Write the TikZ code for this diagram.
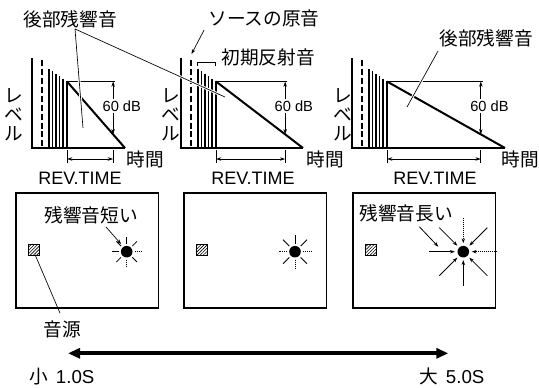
\documentclass[tikz,border=0pt]{standalone}
\usepackage{fontspec}
\setmainfont{Liberation Sans}
\newfontfamily\jp{Noto Sans CJK JP}
\usepackage{tikz}
\usetikzlibrary{arrows.meta,calc,patterns.meta}
\tikzset{
  axisline/.style={line width=0.9pt},
  directline/.style={line width=0.9pt, dash pattern=on 4.5pt off 2.2pt},
  barline/.style={line width=1.4pt},
  decayline/.style={line width=1.5pt},
  thinline/.style={line width=0.5pt},
  dimarrow/.style={line width=0.5pt, {Stealth[length=4pt,width=2.6pt]}-{Stealth[length=4pt,width=2.6pt]}},
  raytip/.style={-{Stealth[length=3.6pt,width=2.6pt]}},
  jplabel/.style={font=\jp\fontsize{14}{14.3}\selectfont, inner sep=0pt},
  enlabel/.style={font=\fontsize{13.5}{16}\selectfont, inner sep=0pt},
  dblabel/.style={font=\fontsize{11}{13}\selectfont, fill=white, inner sep=1.2pt},
  callout/.style={line width=0.5pt, preaction={draw=white, line width=2pt}},
  room/.style={line width=1.4pt},
  srcbox/.style={line width=0.5pt, pattern={Lines[angle=45,distance=1.7pt,line width=0.45pt]}},
  raydash/.style={line width=0.6pt, dash pattern=on 1pt off 0.5pt},
  raysolid/.style={line width=0.6pt},
  bigarrow/.style={line width=3pt, {Triangle[length=9pt,width=7.5pt]}-{Triangle[length=9pt,width=7.5pt]}}
}
% one decay graph: name, axis x, end of decay, REV.TIME x, time x, level x
\newcommand{\decay}[6]{%
  \coordinate (#1top) at (#2+35,81.5);
  \coordinate (#1end) at (#3,148);
  \coordinate (#1hit) at ($(#1top)!0.795!(#1end)$);
  % axes and direct sound
  \draw[axisline] (#2,58) -- (#2,148) -- (#1end);
  \draw[directline] (#2+10,60) -- (#2+10,148);
  % early reflections
  \foreach \dx/\ty in {17/69,20.5/71.5,24/74,27.5/76.5,31/79,35/81.5}
    \draw[barline] (#2+\dx,\ty) -- (#2+\dx,148);
  % reverberant decay
  \draw[decayline] (#1top) -- (#1end);
  \draw[thinline] (#1top) -- ($(#1hit |- #1top)+(2,0)$);
  \draw[dimarrow] (#1hit |- #1top) -- node[dblabel, pos=0.465, xshift=6.5pt] (#1db) {60 dB} (#1hit);
  % REV.TIME span
  \path (#1top) ++(0,77.5) coordinate (#1ra);
  \coordinate (#1rb) at (#1hit |- #1ra);
  \draw[dimarrow] (#1ra) -- (#1rb);
  \draw[thinline] (#1ra) ++(0,-9) -- ++(0,13);
  \draw[thinline] (#1rb) ++(0,-9) -- ++(0,13);
  \node[enlabel] (#1rev) at (#4,178) {REV.TIME};
  \node[jplabel] (#1time) at (#5,159) {時間};
  \node[jplabel, align=center] (#1lev) at (#6,114.5) {レ\\ベ\\ル};
}
\begin{document}
\begin{tikzpicture}[x=0.75pt,y=-0.75pt]
  \useasboundingbox (0,0) rectangle (539,388);

  % decay graphs
  \decay{ga}{32}{125}{80}{145}{13.5}
  \decay{gb}{181}{303}{253}{325}{171}
  \decay{gc}{352}{505}{435}{520.5}{342.5}

  % labels of the graphs
  \node[jplabel] (late1) at (70,19) {後部残響音};
  \coordinate (late1a) at (83,128);
  \coordinate (late1b) at (225,97);
  \draw[callout] ($(late1.south)+(5,1)$) -- (late1a)
                 ($(late1.south)+(5,1)$) -- (late1b);

  \node[jplabel] (orig) at (264,18) {ソースの原音};
  \coordinate (origtip) at (191.5,54);
  \draw[thinline, raytip] ($(orig.south west)+(-4,3)$) -- (origtip);

  \node[jplabel] (early) at (268,57) {初期反射音};
  \draw[thinline] (197,66) -- (197,62.7) -- (215,62.7) -- (215,66);

  \node[jplabel] (late3) at (486,38) {後部残響音};
  \coordinate (late3a) at (407,107);
  \draw[callout] ($(late3.south west)+(-1,4)$) -- (late3a);

  % rooms
  \foreach \n/\rx/\sx/\dx in {1/16/33.5/126.7, 2/184/202/295, 3/353/370.5/463.3}{
    \draw[room] (\rx,193) rectangle ++(142.5,115);
    \draw[srcbox] (\sx-5.5,244.5) rectangle ++(11,11);
    \coordinate (dot\n) at (\dx,251.7);
    \fill (dot\n) circle[radius=5.8];
  }

  % short reverberation
  \foreach \a in {0,90,180,270}
    \draw[raydash] (dot1) ++(\a:8) -- ++(\a:6.5);
  \foreach \a in {45,135,225,315}
    \draw[raysolid] (dot1) ++(\a:8) -- ++(\a:6.5);
  \foreach \a in {0,90,180,270}
    \draw[raydash] (dot2) ++(\a:8) -- ++(\a:8.5);
  \foreach \a in {45,135,225,315}
    \draw[raysolid] (dot2) ++(\a:8) -- ++(\a:9);

  % long reverberation
  \foreach \a in {0,90,180,270}
    \draw[raydash, raytip] (dot3) ++(\a:34) -- ++(\a+180:25.5);
  \foreach \a in {45,135,225,315}
    \draw[raysolid, raytip] (dot3) ++(\a:34) -- ++(\a+180:25.5);
  \draw[raysolid, raytip] (419.3,226.7) -- (438.3,246.7);

  \node[jplabel] (shortrev) at (91,215) {残響音短い};
  \coordinate (shorttip) at (121,244);
  \draw[thinline, raytip] ($(shortrev.south)+(15,3)$) -- (shorttip);

  \node[jplabel] (longrev) at (406,213) {残響音長い};

  \node[jplabel] (ongen) at (62.5,329) {音源};
  \coordinate (ongenbox) at (35,254.5);
  \draw[thinline] (ongenbox) -- ($(ongen.north)+(-2.5,-7)$);

  % scale of reverberation time
  \coordinate (smallend) at (68,353.3);
  \coordinate (largeend) at (448.3,353.3);
  \draw[bigarrow] (smallend) -- (largeend);
  \node[enlabel, font=\fontsize{14}{16}\selectfont] (small) at (61.7,376.7) {{\jp 小}\ \,1.0S};
  \node[enlabel, font=\fontsize{14}{16}\selectfont] (large) at (451.7,376.7) {{\jp 大}\ \,5.0S};
\end{tikzpicture}
\end{document}
